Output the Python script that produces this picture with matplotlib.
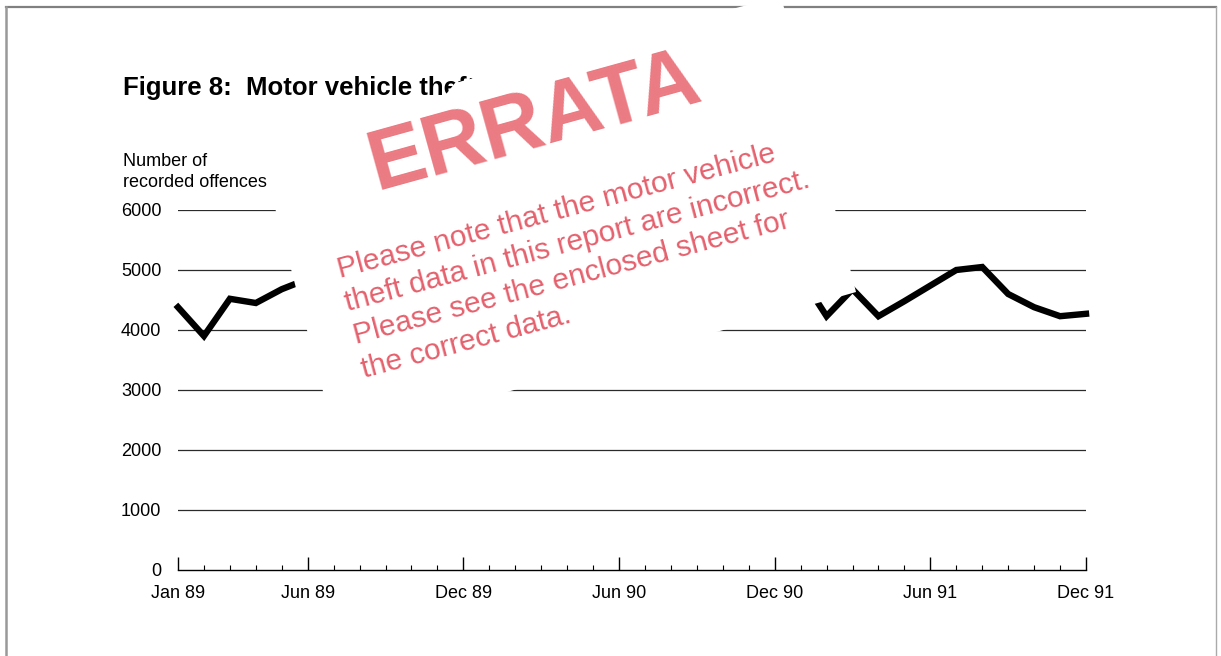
import matplotlib as mpl
mpl.use('Agg')
import matplotlib.pyplot as plt
from matplotlib.patches import Polygon
import numpy as np

# monthly recorded offences, Jan 89 - Dec 91 (NaN = hidden under the errata sticker)
months = ['Jan 89', 'Feb 89', 'Mar 89', 'Apr 89', 'May 89', 'Jun 89',
          'Jul 89', 'Aug 89', 'Sep 89', 'Oct 89', 'Nov 89', 'Dec 89',
          'Jan 90', 'Feb 90', 'Mar 90', 'Apr 90', 'May 90', 'Jun 90',
          'Jul 90', 'Aug 90', 'Sep 90', 'Oct 90', 'Nov 90', 'Dec 90',
          'Jan 91', 'Feb 91', 'Mar 91', 'Apr 91', 'May 91', 'Jun 91',
          'Jul 91', 'Aug 91', 'Sep 91', 'Oct 91', 'Nov 91', 'Dec 91']
offences = [4380, 3900, 4520, 4450, 4680, 4850] + [np.nan] * 18 + \
           [4900, 4230, 4680, 4230, 4480, 4740, 5000, 5050, 4600, 4380, 4230, 4270]
labelled = ['Jan 89', 'Jun 89', 'Dec 89', 'Jun 90', 'Dec 90', 'Jun 91', 'Dec 91']
y_ticks = [0, 1000, 2000, 3000, 4000, 5000, 6000]

W, H = 1221, 656
narrow = ['Liberation Sans Narrow', 'Liberation Sans', 'DejaVu Sans']
sans = ['Liberation Sans', 'DejaVu Sans']
stamp_red = '#ea6f78'

fig = plt.figure(figsize=(W / 100, H / 100), dpi=100)
fig.patch.set_facecolor('white')

# main chart axes, placed in pixel terms
x0, x1, yb, yt = 178, 1086, 570, 210
ax = fig.add_axes([x0 / W, (H - yb) / H, (x1 - x0) / W, (yb - yt) / H])
ax.set_facecolor('none')
x = np.arange(len(months))
ax.set_xlim(0, len(months) - 1)
ax.set_ylim(0, 6000)
for v in y_ticks[1:]:
    ax.axhline(v, color='#2a2a2a', lw=0.9, zorder=1)
ax.plot(x, offences, color='black', lw=4.6, solid_joinstyle='miter', zorder=3, clip_on=False)

for s in ['left', 'right', 'top']:
    ax.spines[s].set_visible(False)
ax.spines['bottom'].set_linewidth(1.0)

major = [months.index(m) for m in labelled]
ax.set_xticks(major)
ax.set_xticklabels(labelled, family=narrow, fontsize=13)
ax.set_xticks(x, minor=True)
ax.tick_params(axis='x', which='major', direction='in', length=9.5, width=1.0, pad=11)
ax.tick_params(axis='x', which='minor', direction='in', length=3.8, width=0.8)
ax.set_yticks(y_ticks)
ax.set_yticklabels([str(v) for v in y_ticks], family=narrow, fontsize=13)
ax.tick_params(axis='y', length=0, pad=12)

fig.text(123 / W, 1 - 95 / H, 'Figure 8:  Motor vehicle theft', family=sans,
         fontsize=18.5, weight='bold', ha='left', va='baseline')
fig.text(123 / W, 1 - 166 / H, 'Number of', family=narrow, fontsize=13, ha='left', va='baseline')
fig.text(123 / W, 1 - 187 / H, 'recorded offences', family=narrow, fontsize=13, ha='left', va='baseline')

# overlay in pixel coords: frame, sticker and errata stamp
ov = fig.add_axes([0, 0, 1, 1], zorder=10)
ov.set_xlim(0, W)
ov.set_ylim(H, 0)
ov.axis('off')
ov.patch.set_alpha(0)
ov.plot([6, 1216], [7, 7], color='#808080', lw=1.6)
ov.plot([6, 6], [7, H], color='#999999', lw=1.8)
ov.plot([1216, 1216], [7, H], color='#aaaaaa', lw=1.0)

sticker = Polygon([(262, 158), (443, 98), (455, 83), (781, -4), (856, 292), (336, 441)],
                  closed=True, facecolor='white', edgecolor='none', zorder=5)
ov.add_patch(sticker)

ov.text(376, 190, 'ERRATA', rotation=15.5, rotation_mode='anchor', ha='left', va='baseline',
        family=sans, weight='bold', fontsize=61,
        color=stamp_red, alpha=0.92, zorder=6)
note = ['Please note that the motor vehicle',
        'theft data in this report are incorrect.',
        'Please see the enclosed sheet for',
        'the correct data.']
starts = [(340, 278), (347, 311), (356, 344), (364, 378)]
for line, (px, py) in zip(note, starts):
    ov.text(px, py, line, rotation=15, rotation_mode='anchor', ha='left', va='baseline',
            family=sans, fontsize=21.5, color='#e4606c', zorder=6)

plt.savefig('out.png', dpi=100, facecolor='white')
